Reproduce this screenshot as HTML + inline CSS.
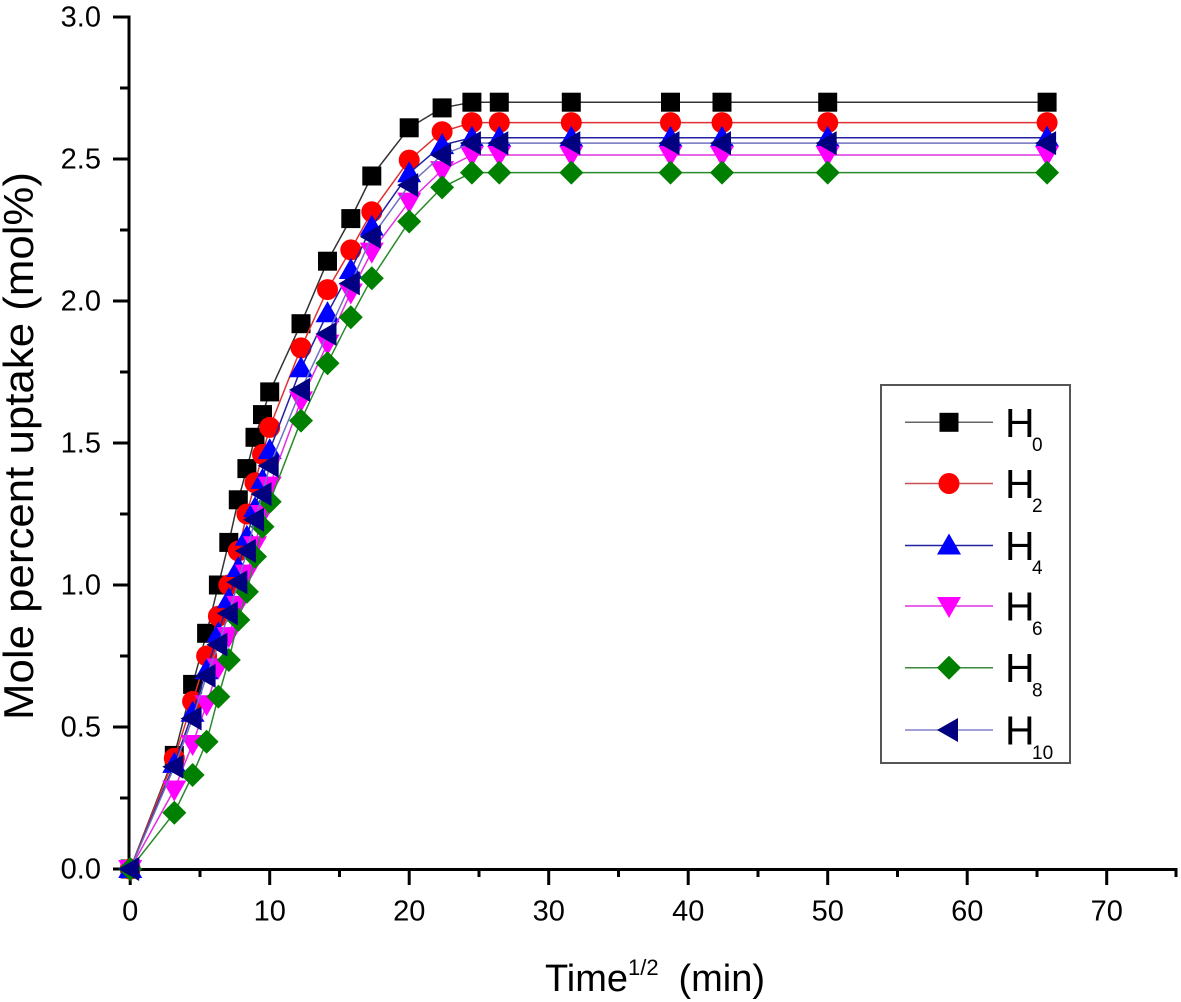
<!DOCTYPE html>
<html><head><meta charset="utf-8"><style>
html,body{margin:0;padding:0;background:#fff;}
svg{display:block;}
text{font-family:"Liberation Sans",Arial,sans-serif;fill:#000;}
</style></head><body>
<svg width="1181" height="1002" viewBox="0 0 1181 1002" xmlns="http://www.w3.org/2000/svg">
<defs>
<marker id="mSq" markerUnits="userSpaceOnUse" markerWidth="20" markerHeight="20" refX="10" refY="10" overflow="visible"><rect x="0.5" y="0.5" width="19" height="19" fill="#000"/></marker>
<marker id="mCi" markerUnits="userSpaceOnUse" markerWidth="22" markerHeight="22" refX="11" refY="11" overflow="visible"><circle cx="11" cy="11" r="10.5" fill="#ff0000"/></marker>
<marker id="mUp" markerUnits="userSpaceOnUse" markerWidth="22" markerHeight="22" refX="11" refY="12" overflow="visible"><polygon points="11,0 23,21 -1,21" fill="#0000ff"/></marker>
<marker id="mDn" markerUnits="userSpaceOnUse" markerWidth="22" markerHeight="22" refX="11" refY="9" overflow="visible"><polygon points="-1,0 23,0 11,21" fill="#ff00ff"/></marker>
<marker id="mDi" markerUnits="userSpaceOnUse" markerWidth="24" markerHeight="24" refX="12" refY="12" overflow="visible"><polygon points="12,0 24,12 12,24 0,12" fill="#008000"/></marker>
<marker id="mLt" markerUnits="userSpaceOnUse" markerWidth="22" markerHeight="22" refX="12" refY="11" overflow="visible"><polygon points="0,11 21,-1 21,23" fill="#000080"/></marker>
</defs>

<!-- axes -->
<g stroke="#000" stroke-width="3" fill="none">
<line x1="129" y1="15.5" x2="129" y2="871"/>
<line x1="127.5" y1="869.5" x2="1177.5" y2="869.5"/>
<line x1="113" y1="17" x2="129" y2="17"/>
<line x1="113" y1="159" x2="129" y2="159"/>
<line x1="113" y1="301" x2="129" y2="301"/>
<line x1="113" y1="443" x2="129" y2="443"/>
<line x1="113" y1="585" x2="129" y2="585"/>
<line x1="113" y1="727" x2="129" y2="727"/>
<line x1="113" y1="869" x2="129" y2="869"/>
<line x1="120" y1="88" x2="129" y2="88"/>
<line x1="120" y1="230" x2="129" y2="230"/>
<line x1="120" y1="372" x2="129" y2="372"/>
<line x1="120" y1="514" x2="129" y2="514"/>
<line x1="120" y1="656" x2="129" y2="656"/>
<line x1="120" y1="798" x2="129" y2="798"/>
<line x1="130.2" y1="869" x2="130.2" y2="885"/>
<line x1="269.7" y1="869" x2="269.7" y2="885"/>
<line x1="409.2" y1="869" x2="409.2" y2="885"/>
<line x1="548.7" y1="869" x2="548.7" y2="885"/>
<line x1="688.2" y1="869" x2="688.2" y2="885"/>
<line x1="827.7" y1="869" x2="827.7" y2="885"/>
<line x1="967.2" y1="869" x2="967.2" y2="885"/>
<line x1="1106.7" y1="869" x2="1106.7" y2="885"/>
<line x1="200" y1="869" x2="200" y2="877"/>
<line x1="339.5" y1="869" x2="339.5" y2="877"/>
<line x1="479" y1="869" x2="479" y2="877"/>
<line x1="618.5" y1="869" x2="618.5" y2="877"/>
<line x1="758" y1="869" x2="758" y2="877"/>
<line x1="897.5" y1="869" x2="897.5" y2="877"/>
<line x1="1037" y1="869" x2="1037" y2="877"/>
<line x1="1176" y1="869" x2="1176" y2="877"/>
</g>

<!-- y tick labels -->
<g font-size="29" text-anchor="end">
<text x="101" y="26.5">3.0</text>
<text x="101" y="168.5">2.5</text>
<text x="101" y="310.5">2.0</text>
<text x="101" y="452.5">1.5</text>
<text x="101" y="594.5">1.0</text>
<text x="101" y="736.5">0.5</text>
<text x="101" y="878.5">0.0</text>
</g>
<!-- x tick labels -->
<g font-size="29" text-anchor="middle">
<text x="130.2" y="920.5">0</text>
<text x="269.7" y="920.5">10</text>
<text x="409.2" y="920.5">20</text>
<text x="548.7" y="920.5">30</text>
<text x="688.2" y="920.5">40</text>
<text x="827.7" y="920.5">50</text>
<text x="967.2" y="920.5">60</text>
<text x="1106.7" y="920.5">70</text>
</g>

<!-- axis titles -->
<text x="545" y="991" font-size="38">Time</text>
<text x="628" y="975" font-size="22">1/2</text>
<text x="765" y="991" font-size="38" text-anchor="end">(min)</text>
<text transform="translate(33,720) rotate(-90)" font-size="42" textLength="548" lengthAdjust="spacingAndGlyphs">Mole percent uptake (mol%)</text>

<!-- series -->
<g fill="none" stroke-width="1.5">
<polyline stroke="#333" marker-start="url(#mSq)" marker-mid="url(#mSq)" marker-end="url(#mSq)"
 points="130.2,869 174.3,755.4 192.6,684.4 206.6,633.3 218.4,585 228.8,542.4 238.3,499.8 246.9,468.6 255,437.3 262.5,414.6 269.7,391.9 301,323.7 327.5,261.2 350.8,218.6 371.8,176 409.2,127.8 442.1,107.9 471.9,102.2 499.3,102.2 571.3,102.2 670.5,102.2 722,102.2 827.7,102.2 1047.1,102.2"/>
<polyline stroke="#e03030" marker-start="url(#mCi)" marker-mid="url(#mCi)" marker-end="url(#mCi)"
 points="130.2,869 174.3,758.2 192.6,701.4 206.6,656 218.4,616.2 228.8,585 238.3,550.9 246.9,514 255,482.8 262.5,454.4 269.7,427.4 301,347.9 327.5,289.6 350.8,249.9 371.8,211.8 409.2,160.1 442.1,131.7 471.9,122.6 499.3,122.6 571.3,122.6 670.5,122.6 722,122.6 827.7,122.6 1047.1,122.6"/>
<polyline stroke="#2020a0" marker-start="url(#mUp)" marker-mid="url(#mUp)" marker-end="url(#mUp)"
 points="130.2,869 174.3,763.9 192.6,712.8 206.6,670.2 218.4,633.3 228.8,599.2 238.3,568 246.9,536.7 255,508.3 262.5,479.9 269.7,450.1 301,368.3 327.5,313.2 350.8,270 371.8,226.6 409.2,173.2 442.1,145.1 471.9,137.7 499.3,137.7 571.3,137.7 670.5,137.7 722,137.7 827.7,137.7 1047.1,137.7"/>
<polyline stroke="#e030e0" marker-start="url(#mDn)" marker-mid="url(#mDn)" marker-end="url(#mDn)"
 points="130.2,869 174.3,789.5 192.6,744 206.6,704.3 218.4,667.4 228.8,636.1 238.3,604.9 246.9,573.6 255,545.2 262.5,514 269.7,485.6 301,400.4 327.5,343.6 350.8,292.5 371.8,251.6 409.2,201.6 442.1,170.1 471.9,155 499.3,155 571.3,155 670.5,155 722,155 827.7,155 1047.1,155"/>
<polyline stroke="#2a8a2a" marker-start="url(#mDi)" marker-mid="url(#mDi)" marker-end="url(#mDi)"
 points="130.2,869 174.3,812.8 192.6,775 206.6,741.8 218.4,696.6 228.8,660 238.3,619.9 246.9,591.8 255,556.6 262.5,526.8 269.7,501.8 301,420.6 327.5,363.2 350.8,317.2 371.8,278.3 409.2,221.5 442.1,187.4 471.9,172.6 499.3,172.6 571.3,172.6 670.5,172.6 722,172.6 827.7,172.6 1047.1,172.6"/>
<polyline stroke="#7070c0" marker-start="url(#mLt)" marker-mid="url(#mLt)" marker-end="url(#mLt)"
 points="130.2,869 174.3,766.8 192.6,718.5 206.6,675.9 218.4,644.6 228.8,613.4 238.3,582.2 246.9,550.9 255,519.7 262.5,494.1 269.7,465.7 301,389.9 327.5,333.9 350.8,283.4 371.8,236.8 409.2,185.1 442.1,155 471.9,143.1 499.3,143.1 571.3,143.1 670.5,143.1 722,143.1 827.7,143.1 1047.1,143.1"/>
</g>

<!-- legend -->
<rect x="881" y="385" width="189" height="378" fill="#fff" stroke="#555" stroke-width="2"/>
<g stroke-width="1.5" fill="none">
<polyline stroke="#666" points="905,422.3 949,422.3 993,422.3" marker-mid="url(#mSq)"/>
<polyline stroke="#c85050" points="905,483.5 949,483.5 993,483.5" marker-mid="url(#mCi)"/>
<polyline stroke="#2020a0" points="905,545.5 949,545.5 993,545.5" marker-mid="url(#mUp)"/>
<polyline stroke="#e030e0" points="905,606 949,606 993,606" marker-mid="url(#mDn)"/>
<polyline stroke="#3a8a3a" points="905,667.7 949,667.7 993,667.7" marker-mid="url(#mDi)"/>
<polyline stroke="#8080c8" points="905,730 949,730 993,730" marker-mid="url(#mLt)"/>
</g>
<g font-size="41">
<text x="1005" y="437">H</text>
<text x="1005" y="498">H</text>
<text x="1005" y="560">H</text>
<text x="1005" y="620.5">H</text>
<text x="1005" y="682">H</text>
<text x="1005" y="744.5">H</text>
</g>
<g font-size="19">
<text x="1032" y="451">0</text>
<text x="1032" y="512">2</text>
<text x="1032" y="574">4</text>
<text x="1032" y="635">6</text>
<text x="1032" y="696.5">8</text>
<text x="1032" y="759">10</text>
</g>
</svg>
</body></html>
